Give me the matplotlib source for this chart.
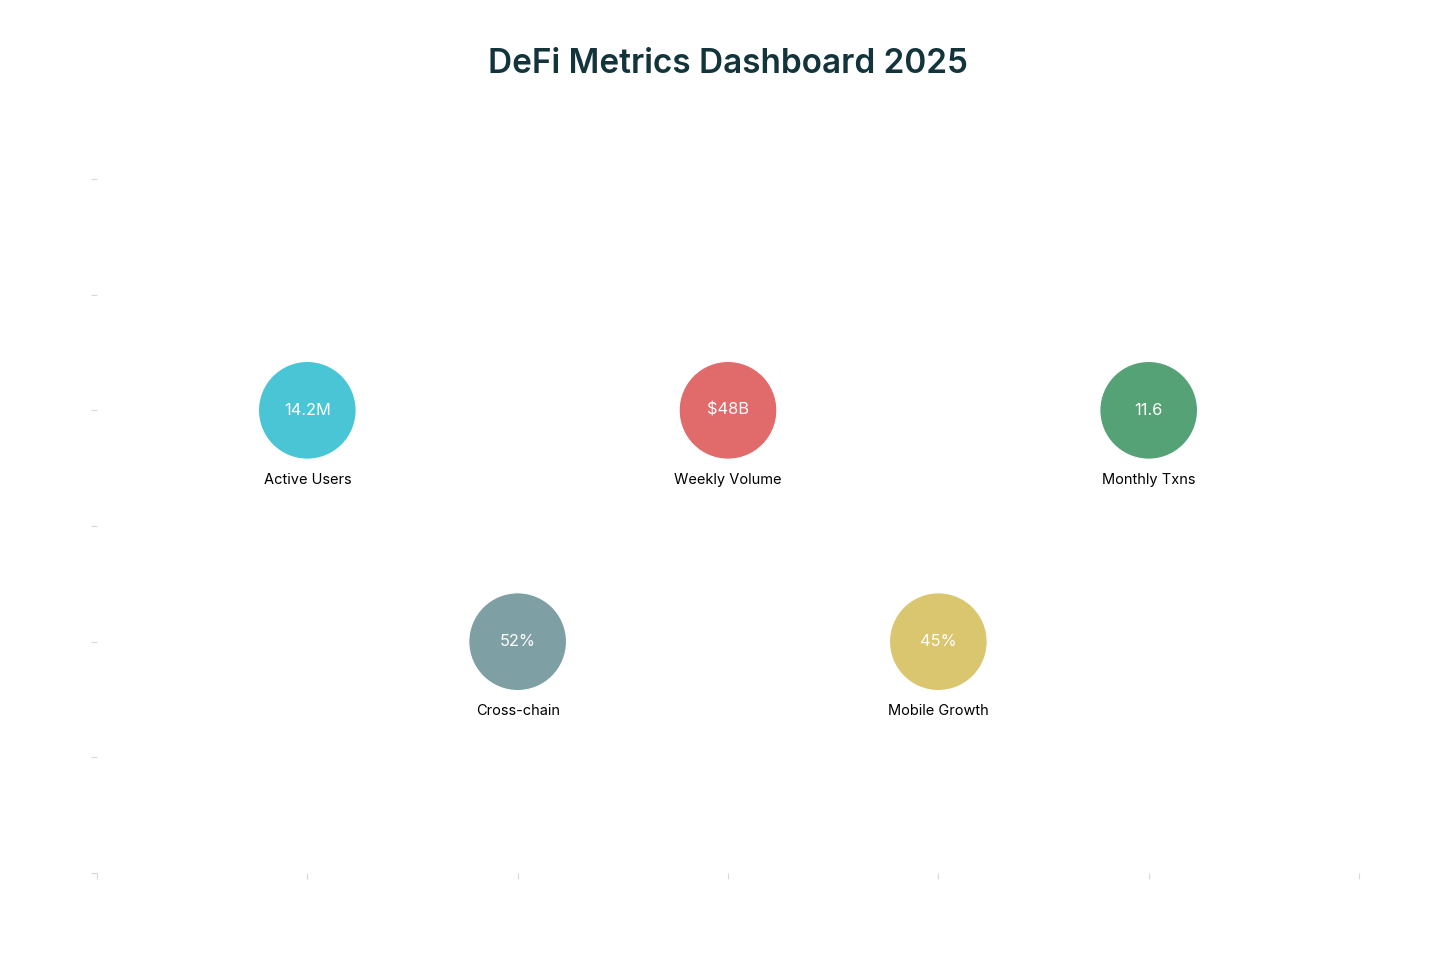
import matplotlib
matplotlib.use('Agg')
import matplotlib.pyplot as plt

# Metric bubbles
labels = ['Active Users', 'Weekly Volume', 'Monthly Txns', 'Cross-chain', 'Mobile Growth']
values = ['14.2M', '$48B', '11.6', '52%', '45%']
x_pos = [1, 3, 5, 2, 4]
y_pos = [4, 4, 4, 2, 2]
colors = ['#4AC5D6', '#E16A6A', '#55A276', '#7E9FA4', '#DAC66E']

plt.rcParams['font.family'] = ['Inter', 'DejaVu Sans']

fig = plt.figure(figsize=(14.56, 9.71), dpi=100)
ax = fig.add_axes([0.0666, 0.1009, 0.8668, 0.7148])

ax.scatter(x_pos, y_pos, s=4950, c=colors, edgecolors='white', linewidths=0.8, zorder=3)

for x, y, val, lab in zip(x_pos, y_pos, values, labels):
    ax.text(x, y, val, ha='center', va='center', color='white', fontsize=11.8, zorder=4)
    ax.annotate(lab, (x, y), xytext=(0, -50), textcoords='offset points',
                ha='center', va='center', color='black', fontsize=10.5)

ax.set_xlim(0, 6)
ax.set_ylim(0, 6)
ax.set_xticks(range(7))
ax.set_yticks(range(7))
ax.set_xticklabels([])
ax.set_yticklabels([])
ax.tick_params(colors='#D8D8D8', length=4, width=0.8)
for side in ['top', 'right', 'bottom', 'left']:
    ax.spines[side].set_visible(False)

fig.suptitle('DeFi Metrics Dashboard 2025', y=0.951, fontsize=24, fontweight='semibold',
             color='#13343B')

fig.savefig('out.png', dpi=100, facecolor='white')
